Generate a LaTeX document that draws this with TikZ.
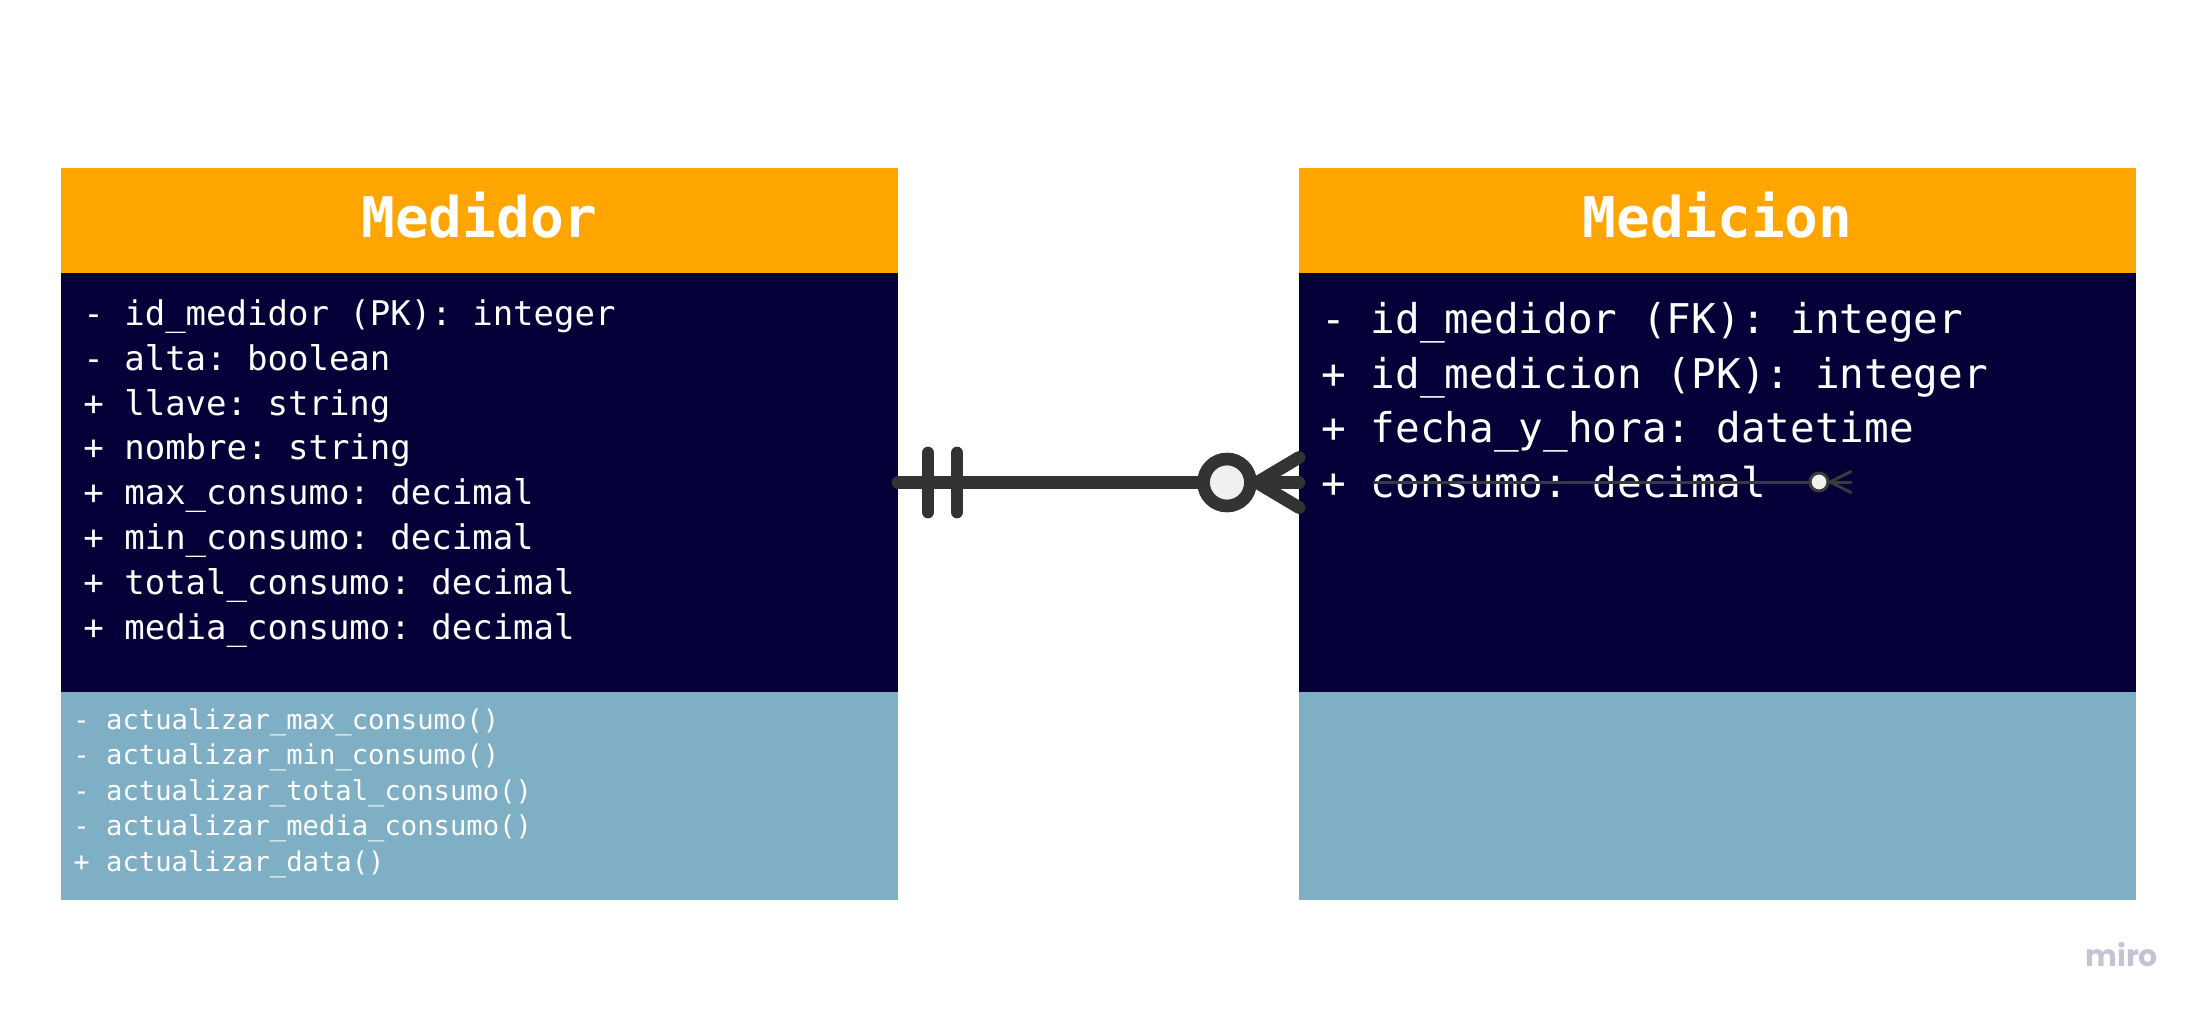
\documentclass[tikz,border=0pt]{standalone}
\usepackage{fontspec}
\setmonofont{DejaVu Sans Mono}
\newfontfamily\mirofont{Poppins}
\usetikzlibrary{calc}
\definecolor{hdrorange}{HTML}{FFA500}
\definecolor{navy}{HTML}{050038}
\definecolor{lblue}{HTML}{7FAFC5}
\definecolor{connc}{HTML}{333333}
\definecolor{circfill}{HTML}{F0F0F0}
\definecolor{smallc}{HTML}{3A3A3A}
\definecolor{mirogray}{HTML}{C2C3D3}
\begin{document}
\begin{tikzpicture}[x=0.5pt,y=-0.5pt,
  box/.style={rectangle, inner sep=0pt, outer sep=0pt, minimum width=418.5pt},
  hdrbox/.style={box, fill=hdrorange, minimum height=52.5pt},
  bodybox/.style={box, fill=navy, minimum height=209.5pt},
  methbox/.style={box, fill=lblue, minimum height=104pt},
  titletext/.style={inner sep=0pt, anchor=base, text=white, font=\ttfamily\bfseries\fontsize{28}{32}\selectfont},
  attrL/.style={inner sep=0pt, anchor=base west, text=white, font=\ttfamily\fontsize{17}{20}\selectfont},
  attrR/.style={inner sep=0pt, anchor=base west, text=white, font=\ttfamily\fontsize{20.5}{24}\selectfont},
  methtext/.style={inner sep=0pt, anchor=base west, text=white, font=\ttfamily\fontsize{13.6}{16}\selectfont},
  conn/.style={draw=connc, line width=6.35pt, line cap=round},
  smallconn/.style={draw=smallc, line width=1.5pt, line cap=round}]
\useasboundingbox[fill=white] (0,0) rectangle (2209,1018);

% Medidor
\node[hdrbox] (medH) at (479.5,220.5) {};
\node[bodybox] (medB) at (479.5,482.5) {};
\node[methbox] (medM) at (479.5,796) {};
\node[titletext] (medT) at (479.5,237) {Medidor};
\node[attrL] (ma1) at (83,325) {- id\_medidor (PK): integer};
\node[attrL] (ma2) at (83,370) {- alta: boolean};
\node[attrL] (ma3) at (83,415) {+ llave: string};
\node[attrL] (ma4) at (83,459) {+ nombre: string};
\node[attrL] (ma5) at (83,504) {+ max\_consumo: decimal};
\node[attrL] (ma6) at (83,549) {+ min\_consumo: decimal};
\node[attrL] (ma7) at (83,594) {+ total\_consumo: decimal};
\node[attrL] (ma8) at (83,639) {+ media\_consumo: decimal};
\node[methtext] (mm1) at (73,729) {- actualizar\_max\_consumo()};
\node[methtext] (mm2) at (73,764.5) {- actualizar\_min\_consumo()};
\node[methtext] (mm3) at (73,800) {- actualizar\_total\_consumo()};
\node[methtext] (mm4) at (73,835.5) {- actualizar\_media\_consumo()};
\node[methtext] (mm5) at (73,871) {+ actualizar\_data()};

% Medicion
\node[hdrbox] (mcnH) at (1717.5,220.5) {};
\node[bodybox] (mcnB) at (1717.5,482.5) {};
\node[methbox] (mcnM) at (1717.5,796) {};
\node[titletext] (mcnT) at (1717.5,237) {Medicion};
\node[attrR] (ra1) at (1321,333) {- id\_medidor (FK): integer};
\node[attrR] (ra2) at (1321,388) {+ id\_medicion (PK): integer};
\node[attrR] (ra3) at (1321,442) {+ fecha\_y\_hora: datetime};
\node[attrR] (ra4) at (1321,497) {+ consumo: decimal};

% main relationship connector
\draw[conn] (medB.east) -- (mcnB.west);
\draw[conn] ($(medB.east)+(30,-29.5)$) -- ($(medB.east)+(30,29.5)$);
\draw[conn] ($(medB.east)+(59,-29.5)$) -- ($(medB.east)+(59,29.5)$);
\draw[conn, fill=circfill] ($(mcnB.west)+(-72,0)$) circle[radius=11.75pt];
\draw[conn] ($(mcnB.west)+(-42,0)$) -- ($(mcnB.west)+(0,-25)$);
\draw[conn] ($(mcnB.west)+(-42,0)$) -- ($(mcnB.west)+(0,25)$);

% small stray connector
\coordinate (s1) at (1374,482);
\coordinate (s2) at (1851,482);
\draw[smallconn] (s1) -- (s2);
\draw[smallconn, fill=circfill] ($(s2)+(-32,0)$) circle[radius=4.5pt];
\draw[smallconn] ($(s2)+(-21,0)$) -- ($(s2)+(0,-10.5)$);
\draw[smallconn] ($(s2)+(-21,0)$) -- ($(s2)+(0,10.5)$);

% logo
\node[inner sep=0pt, anchor=base west, text=mirogray, font=\mirofont\bfseries\fontsize{15}{18}\selectfont] (logo) at (2085,966) {miro};
\end{tikzpicture}
\end{document}
